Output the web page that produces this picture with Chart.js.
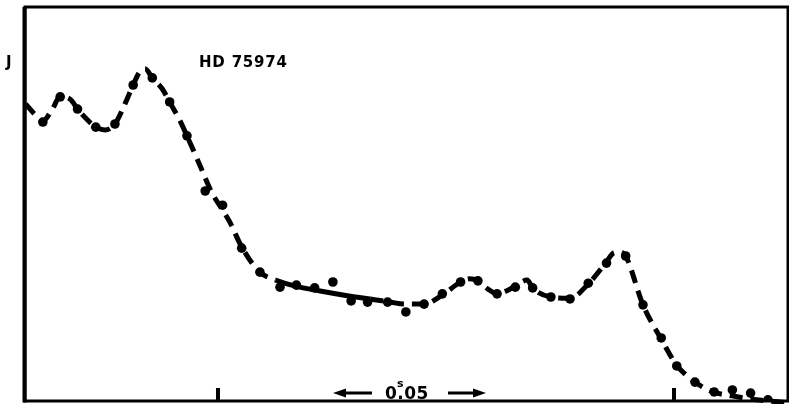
<!DOCTYPE html>
<html>
<head>
<meta charset="utf-8">
<script src="https://cdn.jsdelivr.net/npm/chart.js@4/dist/chart.umd.min.js"></script>
<style>
  html, body { margin: 0; padding: 0; background: #fff; }
  canvas { display: block; }
</style>
</head>
<body>
<canvas id="lightCurve" width="789" height="405"></canvas>
<script>
// time in units of 0.01 s, intensity J in arbitrary units (0-100)
const curveX = [2.89, 2.99, 3.08, 3.18, 3.27, 3.38, 3.46, 3.57, 3.66, 3.76, 3.87, 3.98, 4.07, 4.14, 4.20,
    4.28, 4.39, 4.47, 4.58, 4.66, 4.80, 4.93, 5.05, 5.13, 5.26, 5.46, 5.63, 5.84, 6.12, 6.45, 6.67, 6.89,
    7.05, 7.26, 7.46, 7.66, 7.76, 7.85, 7.96, 8.06, 8.16, 8.26, 8.39, 8.45, 8.65, 8.86, 9.06, 9.25, 9.34,
    9.41, 9.47, 9.66, 9.86, 10.03, 10.23, 10.43, 10.64, 10.84, 11.05, 11.26];
const curveY = [75.4, 72.8, 71.1, 73.9, 77.2, 76.6, 74.1, 71.3, 69.5, 68.8, 70.3, 75.4, 80.2, 83.5, 84.3,
    82.0, 79.2, 75.9, 71.3, 67.3, 59.9, 53.0, 48.5, 45.4, 39.1, 32.7, 30.7, 29.2, 27.9, 26.6, 25.9, 25.1,
    24.6, 24.6, 26.9, 30.2, 31.0, 30.5, 28.4, 27.2, 27.9, 29.2, 30.7, 28.7, 26.4, 26.1, 29.7, 35.0, 37.6,
    37.8, 36.8, 24.4, 15.7, 9.1, 4.8, 2.3, 1.3, 0.5, 0.0, -0.5];

const dotX = [3.08, 3.27, 3.46, 3.66, 3.87, 4.07, 4.28, 4.47, 4.66, 4.86, 5.05, 5.26, 5.46, 5.68, 5.86,
    6.06, 6.26, 6.46, 6.64, 6.86, 7.06, 7.26, 7.46, 7.66, 7.85, 8.06, 8.26, 8.45, 8.65, 8.86, 9.06, 9.26,
    9.47, 9.66, 9.86, 10.03, 10.23, 10.44, 10.64, 10.84, 11.03];
const dotY = [70.8, 77.2, 74.1, 69.5, 70.3, 80.2, 82.0, 75.9, 67.3, 53.3, 49.7, 38.8, 32.7, 28.9, 29.4,
    28.7, 30.2, 25.4, 25.1, 25.1, 22.6, 24.6, 27.2, 30.2, 30.5, 27.2, 28.9, 28.7, 26.4, 25.9, 29.9, 35.0,
    36.8, 24.4, 16.0, 8.9, 4.8, 2.3, 2.8, 2.0, 0.3];

const tickValues = [5, 10];
const solidFrom = 5.6;
const solidTo = 6.7;

const frame = {
    id: 'frame',
    afterDraw(chart) {
        const ctx = chart.ctx;
        const a = chart.chartArea;
        const xs = chart.scales.x;
        ctx.save();
        ctx.strokeStyle = '#000';
        ctx.fillStyle = '#000';
        ctx.lineWidth = 3;
        ctx.strokeRect(a.left, a.top, a.right - a.left, a.bottom - a.top);
        ctx.fillRect(a.left - 2.5, a.top, 4, a.bottom - a.top + 1.5);

        tickValues.forEach(v => {
            const px = xs.getPixelForValue(v);
            ctx.fillRect(px - 2, a.bottom - 13, 4, 13);
        });

        ctx.textBaseline = 'alphabetic';
        ctx.font = 'bold 15px "DejaVu Sans"';
        ctx.fillText('J', 6, 67);
        ctx.letterSpacing = '0.8px';
        ctx.fillText('HD 75974', 199, 66.5);
        ctx.letterSpacing = '0.5px';
        ctx.font = 'bold 17px "DejaVu Sans"';
        ctx.fillText('0.05', 385, 398.5);
        ctx.letterSpacing = '0px';
        ctx.font = 'bold 11px "DejaVu Sans"';
        ctx.fillText('s', 397, 387);

        // scale-bar arrows
        ctx.lineWidth = 3;
        ctx.beginPath();
        ctx.moveTo(343, 393); ctx.lineTo(372, 393);
        ctx.moveTo(448, 393); ctx.lineTo(475, 393);
        ctx.stroke();
        ctx.beginPath();
        ctx.moveTo(333, 393); ctx.lineTo(346, 388.5); ctx.lineTo(346, 397.5); ctx.closePath();
        ctx.moveTo(486, 393); ctx.lineTo(473, 388.5); ctx.lineTo(473, 397.5); ctx.closePath();
        ctx.fill();
        ctx.restore();
    }
};

new Chart(document.getElementById('lightCurve'), {
    type: 'scatter',
    data: {
        datasets: [
            {
                label: 'points',
                data: dotX.map((x, i) => ({ x: x, y: dotY[i] })),
                showLine: false,
                pointRadius: 4.8,
                pointBackgroundColor: '#000',
                pointBorderWidth: 0,
                order: 0
            },
            {
                label: 'curve',
                data: curveX.map((x, i) => ({ x: x, y: curveY[i] })),
                showLine: true,
                pointRadius: 0,
                borderColor: '#000',
                borderWidth: 5,
                borderCapStyle: 'butt',
                cubicInterpolationMode: 'monotone',
                borderDash: [13, 8],
                segment: {
                    borderDash: c => (c.p0.parsed.x >= solidFrom && c.p1.parsed.x <= solidTo) ? [] : [13, 8]
                },
                clip: 3,
                order: 1
            }
        ]
    },
    options: {
        responsive: false,
        animation: false,
        layout: { autoPadding: false, padding: { left: 25, top: 7, right: 1, bottom: 4 } },
        plugins: { legend: { display: false }, tooltip: { enabled: false } },
        scales: {
            x: { type: 'linear', min: 2.884, max: 11.25, display: false },
            y: { type: 'linear', min: 0, max: 100, display: false }
        }
    },
    plugins: [frame]
});
</script>
</body>
</html>
